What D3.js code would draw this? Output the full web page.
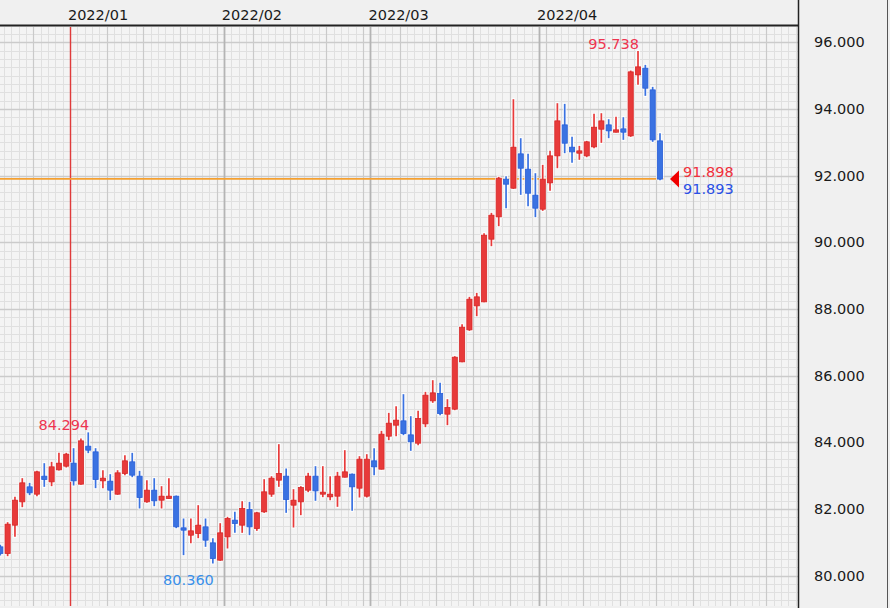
<!DOCTYPE html>
<html><head><meta charset="utf-8">
<script src="https://cdn.jsdelivr.net/npm/d3@7/dist/d3.min.js"></script>
<style>html,body{margin:0;padding:0;background:#fff}svg{display:block}</style>
</head><body><svg id="chart" width="890" height="608"></svg>
<script>
const dates = [
"2021-12-20","2021-12-21","2021-12-22","2021-12-23","2021-12-24","2021-12-27","2021-12-28","2021-12-29","2021-12-30","2021-12-31",
"2022-01-03","2022-01-04","2022-01-05","2022-01-06","2022-01-07","2022-01-10","2022-01-11","2022-01-12","2022-01-13","2022-01-14",
"2022-01-17","2022-01-18","2022-01-19","2022-01-20","2022-01-21","2022-01-24","2022-01-25","2022-01-26","2022-01-27","2022-01-28","2022-01-31",
"2022-02-01","2022-02-02","2022-02-03","2022-02-04","2022-02-07","2022-02-08","2022-02-09","2022-02-10","2022-02-11","2022-02-14",
"2022-02-15","2022-02-16","2022-02-17","2022-02-18","2022-02-21","2022-02-22","2022-02-23","2022-02-24","2022-02-25","2022-02-28",
"2022-03-01","2022-03-02","2022-03-03","2022-03-04","2022-03-07","2022-03-08","2022-03-09","2022-03-10","2022-03-11","2022-03-14",
"2022-03-15","2022-03-16","2022-03-17","2022-03-18","2022-03-21","2022-03-22","2022-03-23","2022-03-24","2022-03-25","2022-03-28",
"2022-03-29","2022-03-30","2022-03-31",
"2022-04-01","2022-04-04","2022-04-05","2022-04-06","2022-04-07","2022-04-08","2022-04-11","2022-04-12","2022-04-13","2022-04-14",
"2022-04-15","2022-04-18","2022-04-19","2022-04-20","2022-04-21","2022-04-22","2022-04-25"];
const open = [80.86,80.66,81.51,82.21,82.66,82.44,82.98,82.81,83.17,83.28,
83.37,82.74,83.88,83.71,82.84,82.83,82.44,83.06,83.41,82.98,
82.21,82.56,82.26,82.31,82.38,81.43,81.21,81.26,81.46,80.98,
80.46,81.16,81.66,81.51,81.98,81.41,81.91,82.44,82.86,82.98,
82.11,82.21,82.56,82.98,82.44,82.36,82.38,82.95,83.04,82.62,
82.38,83.44,83.19,84.18,84.51,84.64,84.22,83.97,84.55,85.24,
85.46,84.84,84.99,86.41,87.37,88.09,88.21,90.09,90.76,91.89,
91.62,92.65,92.19,91.41,90.99,91.78,92.59,93.52,92.85,92.67,
92.59,92.86,93.39,93.52,93.30,93.40,93.19,95.02,95.22,94.57,93.04];
const high = [80.92,81.60,82.36,82.92,82.78,83.14,83.37,83.41,83.68,83.68,
83.82,84.11,84.294,83.82,83.16,83.04,83.16,83.61,83.68,83.14,
82.86,82.92,82.68,82.92,82.40,81.71,81.71,82.11,81.71,81.12,
81.57,81.76,81.91,82.23,82.21,81.91,82.89,82.98,83.94,83.21,
82.59,82.68,83.08,83.28,83.28,82.98,83.11,83.76,83.06,83.58,
83.64,83.82,84.34,84.88,85.08,85.44,84.78,84.94,85.51,85.86,
85.78,85.29,86.58,87.54,88.36,88.48,90.27,90.88,91.96,91.98,
94.29,93.12,92.65,92.07,92.32,92.74,94.17,94.15,93.16,92.89,
93.04,93.85,93.87,93.69,93.76,93.75,95.15,95.738,95.32,94.66,93.27];
const low = [80.60,80.58,81.16,82.05,82.41,82.38,82.66,82.68,83.15,83.24,
82.70,82.72,83.67,82.62,82.62,82.26,82.42,83.01,82.95,82.01,
82.18,82.08,82.01,82.30,81.42,80.61,80.97,81.12,80.86,80.36,
80.44,80.81,81.28,81.28,81.21,81.34,81.88,82.36,82.66,81.88,
81.44,81.81,82.50,82.24,82.35,82.26,82.06,82.94,81.94,82.34,
82.34,83.01,83.18,84.06,84.18,84.21,83.74,83.91,84.45,85.18,
84.81,84.51,84.96,86.40,87.34,87.78,88.20,89.88,90.48,91.02,
91.60,91.42,91.08,90.75,90.94,91.54,92.22,92.67,92.38,92.47,
92.55,92.82,92.98,93.12,93.29,93.07,93.16,94.72,94.39,93.01,91.86];
const close = [80.66,81.54,82.26,82.78,82.48,83.11,82.88,83.26,83.37,83.64,
82.84,84.04,83.76,82.88,82.92,82.56,83.08,83.44,83.01,82.34,
82.56,82.24,82.38,82.38,81.46,81.36,81.34,81.51,81.06,80.51,
81.28,81.71,81.56,82.01,81.46,81.88,82.51,82.92,83.06,82.28,
82.26,82.64,82.98,82.54,82.50,82.44,82.98,83.11,82.66,83.49,
83.49,83.26,84.24,84.57,84.66,84.26,84.01,84.71,85.41,85.48,
84.86,85.04,86.55,87.45,88.29,88.36,90.21,90.81,91.92,91.74,
92.85,92.22,91.47,91.02,91.89,92.59,93.64,92.97,92.71,92.74,
93.01,93.45,93.64,93.34,93.37,93.30,95.11,95.26,94.62,93.07,91.893];
const yTicks = [80,82,84,86,88,90,92,94,96];
const monthLabels = ["2022/01","2022/02","2022/03","2022/04"];
const highMarks = [12, 87];   // candles whose high is labelled
const lowMarks = [29];        // candles whose low is labelled
const askPrice = 91.898;
const bidPrice = 91.893;

const W = 890, H = 608;
const plot = {left: 0, top: 27, right: 798, bottom: 606};
const svg = d3.select("#chart");
const fontFam = "'DejaVu Sans', Verdana, sans-serif";

const x = d3.scaleBand().domain(dates).range([-3.37, -3.37 + 7.33 * dates.length]).padding(0);
const y = d3.scaleLinear().domain([80, 96]).range([575.5, 42.2]);
const xc = d => x(d) + x.bandwidth() / 2;

// backgrounds
svg.append("rect").attr("x",0).attr("y",0).attr("width",W).attr("height",H).attr("fill","#f0f0f0");
svg.append("rect").attr("x",plot.left).attr("y",plot.top).attr("width",plot.right-plot.left).attr("height",plot.bottom-plot.top).attr("fill","#f4f4f4");

const defs = svg.append("defs");
defs.append("clipPath").attr("id","clip").append("rect")
  .attr("x",plot.left).attr("y",plot.top).attr("width",plot.right-plot.left).attr("height",plot.bottom-plot.top);
const g = svg.append("g").attr("clip-path","url(#clip)");

// minor horizontal grid (every 0.25)
const minorY = d3.range(78, 98.01, 0.25);
g.append("g").selectAll("line").data(minorY).join("line")
  .attr("x1",plot.left).attr("x2",plot.right)
  .attr("y1",d=>Math.round(y(d))+0.5).attr("y2",d=>Math.round(y(d))+0.5)
  .attr("stroke","#e0e0e0").attr("stroke-width",1);
// minor vertical grid (each day boundary, extended past last candle)
const step = x.step();
const extraSlots = d3.range(0, Math.ceil((plot.right - x.range()[0]) / step) + 1);
g.append("g").selectAll("line").data(extraSlots).join("line")
  .attr("x1",i=>Math.round(x.range()[0] + i*step)+0.5).attr("x2",i=>Math.round(x.range()[0] + i*step)+0.5)
  .attr("y1",plot.top).attr("y2",plot.bottom)
  .attr("stroke","#e0e0e0").attr("stroke-width",1);
// weekly vertical lines (Mondays), continue weekly beyond data
const mondays = dates.filter(d => new Date(d+"T00:00:00").getDay() === 1);
const lastMon = mondays[mondays.length-1];
const weekX = mondays.map(d => x(d));
for (let k = 1; k < 6; k++) weekX.push(x(lastMon) + k*5*step);
g.append("g").selectAll("line").data(weekX).join("line")
  .attr("x1",d=>Math.round(d)+0.5).attr("x2",d=>Math.round(d)+0.5)
  .attr("y1",plot.top).attr("y2",plot.bottom)
  .attr("stroke","#cacaca").attr("stroke-width",1.2);
// major horizontal lines
g.append("g").selectAll("line").data(yTicks).join("line")
  .attr("x1",plot.left).attr("x2",plot.right)
  .attr("y1",d=>Math.round(y(d))+0.5).attr("y2",d=>Math.round(y(d))+0.5)
  .attr("stroke","#cbcbcb").attr("stroke-width",1.4);
// month lines
const monthStarts = dates.filter((d,i) => i>0 && d.slice(5,7) !== dates[i-1].slice(5,7));
g.append("g").selectAll("line").data(monthStarts).join("line")
  .attr("x1",d=>Math.round(x(d))+0.5).attr("x2",d=>Math.round(x(d))+0.5)
  .attr("y1",plot.top).attr("y2",plot.bottom)
  .attr("stroke",(d,i)=> i===0 ? "#e03a3a" : "#b4b4b4").attr("stroke-width",(d,i)=> i===0 ? 1.4 : 1.8);

// price line
g.append("line").attr("x1",plot.left).attr("x2",xc(dates[dates.length-1])+4)
  .attr("y1",y(askPrice)).attr("y2",y(askPrice))
  .attr("stroke","#f5a030").attr("stroke-width",1.6);

// candles
const idx = d3.range(dates.length);
const up = i => close[i] >= open[i];
const fillC = i => up(i) ? "#e83a3a" : "#3a72e2";
const strokeC = i => up(i) ? "#d42828" : "#2a5fd6";
const cg = g.append("g");
// halo
cg.selectAll("line.halo").data(idx).join("line").attr("class","halo")
  .attr("x1",i=>xc(dates[i])).attr("x2",i=>xc(dates[i]))
  .attr("y1",i=>y(high[i])-1).attr("y2",i=>y(low[i])+1)
  .attr("stroke","#ffffff").attr("stroke-width",3.8).attr("opacity",0.9);
cg.selectAll("rect.halo").data(idx).join("rect").attr("class","halo")
  .attr("x",i=>xc(dates[i])-3.7).attr("width",7.4)
  .attr("y",i=>y(Math.max(open[i],close[i]))-1)
  .attr("height",i=>Math.max(2, Math.abs(y(open[i])-y(close[i])))+2)
  .attr("fill","#ffffff").attr("opacity",0.9);
cg.selectAll("line.wick").data(idx).join("line").attr("class","wick")
  .attr("x1",i=>xc(dates[i])).attr("x2",i=>xc(dates[i]))
  .attr("y1",i=>y(high[i])).attr("y2",i=>y(low[i]))
  .attr("stroke",i=>fillC(i)).attr("stroke-width",1.7);
cg.selectAll("rect.body").data(idx).join("rect").attr("class","body")
  .attr("x",i=>xc(dates[i])-2.6).attr("width",5.2)
  .attr("y",i=>y(Math.max(open[i],close[i])))
  .attr("height",i=>Math.max(1.4, Math.abs(y(open[i])-y(close[i]))))
  .attr("fill",i=>fillC(i)).attr("stroke",strokeC).attr("stroke-width",0.8);

// high / low annotations
const fmt = d3.format(".3f");
svg.append("g").selectAll("text").data(highMarks).join("text")
  .attr("x",i=>xc(dates[i])+1).attr("y",i=>y(high[i])-2)
  .attr("text-anchor","end").attr("fill","#ee3550")
  .style("font-family",fontFam).style("font-size","14.5px")
  .text(i=>fmt(high[i]));
svg.append("g").selectAll("text").data(lowMarks).join("text")
  .attr("x",i=>xc(dates[i])+1).attr("y",i=>y(low[i])+21)
  .attr("text-anchor","end").attr("fill","#3a90ea")
  .style("font-family",fontFam).style("font-size","14.5px")
  .text(i=>fmt(low[i]));

// current price marker
const last = xc(dates[dates.length-1]);
const yA = y(askPrice);
svg.append("path").attr("d",`M${last+10},${yA} L${last+19},${yA-8.5} L${last+19},${yA+8.5} Z`).attr("fill","#f00000");
svg.append("text").attr("x",last+23).attr("y",yA-2).attr("fill","#f0303c")
  .style("font-family",fontFam).style("font-size","14.5px").text(fmt(askPrice));
svg.append("text").attr("x",last+23).attr("y",yA+15).attr("fill","#2a4fe6")
  .style("font-family",fontFam).style("font-size","14.5px").text(fmt(bidPrice));

// header + axes frame
svg.append("line").attr("x1",0).attr("x2",plot.right).attr("y1",25.5).attr("y2",25.5).attr("stroke","#222").attr("stroke-width",2);
svg.append("line").attr("x1",plot.right+0.5).attr("x2",plot.right+0.5).attr("y1",0).attr("y2",H).attr("stroke","#222").attr("stroke-width",1.5);
svg.append("line").attr("x1",887.5).attr("x2",887.5).attr("y1",0).attr("y2",H).attr("stroke","#555").attr("stroke-width",1);

// month labels
svg.append("g").selectAll("text").data(monthStarts).join("text")
  .attr("x",d=>x(d)-2).attr("y",20)
  .attr("fill","#1a1a1a").style("font-family",fontFam).style("font-size","14.5px")
  .text((d,i)=>monthLabels[i]);

// y axis labels
const yAxis = d3.axisRight(y).tickValues(yTicks).tickFormat(fmt).tickSize(0).tickPadding(16);
const ya = svg.append("g").attr("transform",`translate(${plot.right},0)`).call(yAxis);
ya.select(".domain").remove();
ya.selectAll("text").attr("fill","#1a1a1a").style("font-family",fontFam).style("font-size","14.5px");
</script></body></html>
